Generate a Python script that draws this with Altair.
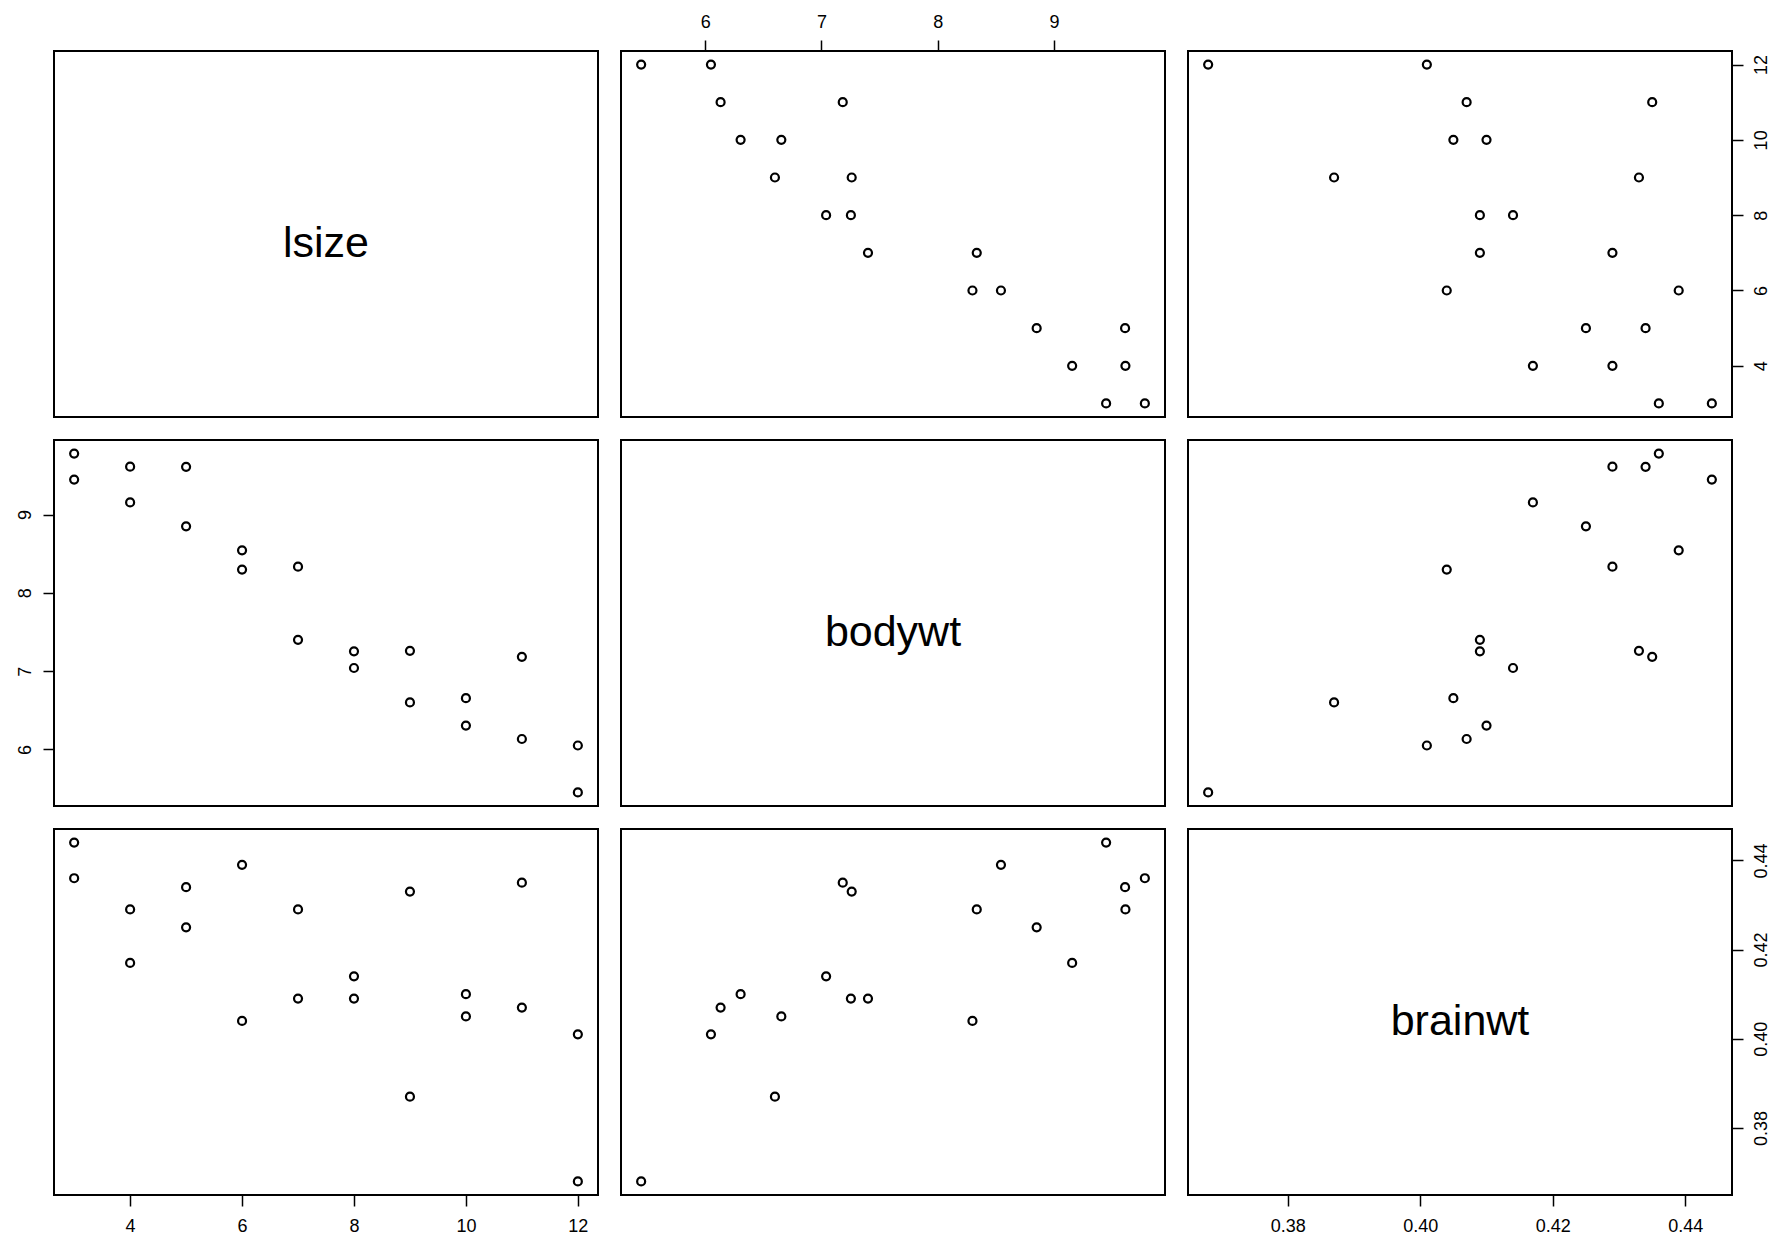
import altair as alt
import pandas as pd

variables = ["lsize", "bodywt", "brainwt"]
lsize = [3, 3, 4, 4, 5, 5, 6, 6, 7, 7, 8, 8, 9, 9, 10, 10, 11, 11, 12, 12]
bodywt = [9.447, 9.780, 9.155, 9.613, 8.850, 9.610, 8.298, 8.543, 7.400, 8.335,
          7.040, 7.253, 6.600, 7.260, 6.305, 6.655, 7.183, 6.133, 5.450, 6.050]
brainwt = [0.444, 0.436, 0.417, 0.429, 0.425, 0.434, 0.404, 0.439, 0.409, 0.429,
           0.414, 0.409, 0.387, 0.433, 0.410, 0.405, 0.435, 0.407, 0.368, 0.401]
tick_values = {
    "lsize": [4, 6, 8, 10, 12],
    "bodywt": [6, 7, 8, 9],
    "brainwt": [0.38, 0.40, 0.42, 0.44],
}
tick_formats = {"lsize": "d", "bodywt": "d", "brainwt": ".2f"}

df = pd.DataFrame({"lsize": lsize, "bodywt": bodywt, "brainwt": brainwt})

W, H = 544, 366
FONT = "Liberation Sans"


def domain(v):
    lo, hi = min(df[v]), max(df[v])
    pad = 0.04 * (hi - lo)
    return [lo - pad, hi + pad]


def make_axis(v, orient):
    common = dict(
        values=tick_values[v], format=tick_formats[v], title=None, grid=False,
        domain=False, ticks=True, tickSize=11, tickWidth=1.5, tickColor="black",
        labelColor="black", labelFont=FONT, labelFontSize=18, labelPadding=9,
        orient=orient, labelOverlap=False,
    )
    if orient in ("left", "right"):
        common.update(labelAngle=270, labelAlign="center",
                      labelBaseline="bottom" if orient == "left" else "top")
    else:
        common.update(labelAngle=0, labelAlign="center",
                      labelBaseline="top" if orient == "bottom" else "bottom",
                      labelPadding=11 if orient == "bottom" else 9)
    return alt.Axis(**common)


# which panel carries which axis (R pairs() convention)
x_axis_at = {(2, 0): "bottom", (0, 1): "top", (2, 2): "bottom"}
y_axis_at = {(0, 2): "right", (1, 0): "left", (2, 2): "right"}

panels = []
for i, yv in enumerate(variables):
    for j, xv in enumerate(variables):
        xa = make_axis(xv, x_axis_at[(i, j)]) if (i, j) in x_axis_at else None
        ya = make_axis(yv, y_axis_at[(i, j)]) if (i, j) in y_axis_at else None
        xenc = alt.X(f"{xv}:Q", scale=alt.Scale(domain=domain(xv), nice=False, zero=False),
                     axis=xa)
        yenc = alt.Y(f"{yv}:Q", scale=alt.Scale(domain=domain(yv), nice=False, zero=False),
                     axis=ya)
        pts = alt.Chart(df).mark_point(
            shape="circle", filled=False, color="black", size=64, strokeWidth=2.2,
            opacity=0 if i == j else 1,
        ).encode(x=xenc, y=yenc)
        if i == j:
            lab = alt.Chart(pd.DataFrame({"name": [xv]})).mark_text(
                font=FONT, fontSize=43, color="black", align="center", baseline="middle"
            ).encode(text="name:N", x=alt.value(W / 2), y=alt.value(H / 2 + 10))
            panel = alt.layer(pts, lab).properties(width=W, height=H)
        else:
            panel = pts.properties(width=W, height=H)
        panels.append(panel)

chart = alt.concat(*panels, columns=3, spacing=23, bounds="flush").properties(
    padding={"left": 15, "top": 12, "right": 10, "bottom": 10},
    background="white",
).configure_view(stroke="black", strokeWidth=2)

chart.save("out.html", embed_options={"renderer": "svg", "actions": False})
